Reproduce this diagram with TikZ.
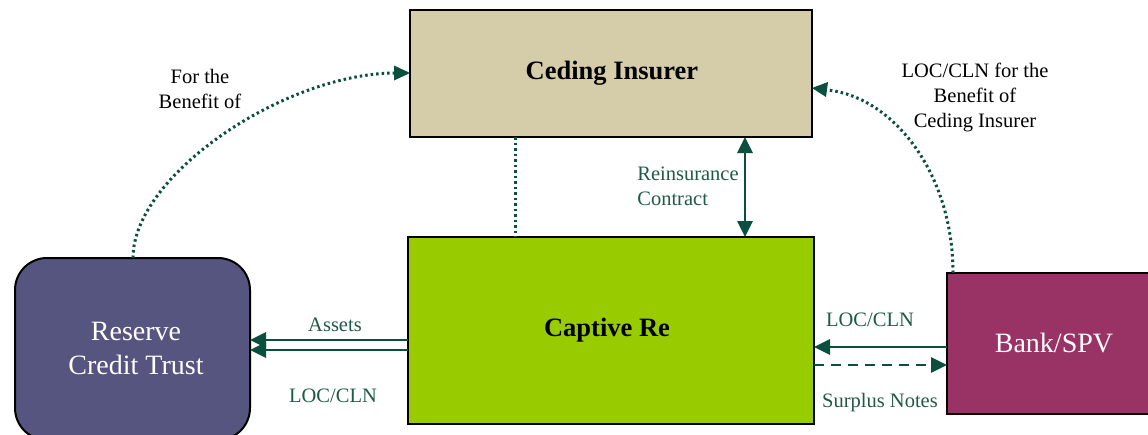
\documentclass[tikz,border=0pt]{standalone}
\usepackage{fontspec}
\setmainfont{Liberation Serif}
\usetikzlibrary{arrows.meta}
\definecolor{tan}{HTML}{D5CCAA}
\definecolor{lime}{HTML}{99CC00}
\definecolor{trust}{HTML}{55557F}
\definecolor{bank}{HTML}{993366}
\definecolor{arr}{HTML}{0B4F3E}
\definecolor{gtext}{HTML}{1E5A48}
\tikzset{
  box/.style={draw=black, line width=2pt, inner sep=0pt},
  conn/.style={draw=arr, line width=2.8pt},
  tip/.style={-{Triangle[length=16pt,width=15pt]}},
  dots/.style={draw=arr, line width=3pt, dash pattern=on 2.5pt off 3pt},
  glabel/.style={text=gtext, font=\fontsize{20.5}{25}\selectfont, align=center},
  blabel/.style={text=black, font=\fontsize{20.5}{25}\selectfont, align=center},
}
\begin{document}
\begin{tikzpicture}[x=1pt,y=-1pt]
\clip (0,0) rectangle (1148,434);
\fill[white] (0,0) rectangle (1148,434);
% boxes
\draw[box, fill=tan] (410,10) rectangle (812,137);
\node[font=\fontsize{26.5}{30}\selectfont\bfseries] (ced) at (612,73.5) {Ceding Insurer};
\draw[box, fill=lime] (408,237) rectangle (814,424);
\node[font=\fontsize{26.5}{30}\selectfont\bfseries] (cap) at (607,330) {Captive Re};
\draw[box, fill=trust, rounded corners=32pt] (15,258) rectangle (250,440);
\node[text=white, align=center, font=\fontsize{28}{34}\selectfont] (trust) at (136,348) {Reserve\\Credit Trust};
\draw[box, fill=bank] (947,273) rectangle (1160,414);
\node[text=white, font=\fontsize{28}{30}\selectfont] (bank) at (1054,343) {Bank/SPV};
% anchor coordinates on box edges
\coordinate (cedB1) at (515,137);
\coordinate (capT1) at (515,237);
\coordinate (cedB2) at (745,137);
\coordinate (capT2) at (745,237);
\coordinate (capL1) at (408,340);
\coordinate (capL2) at (408,350);
\coordinate (trR1) at (250,340);
\coordinate (trR2) at (250,350);
\coordinate (capR1) at (814,347);
\coordinate (capR2) at (814,365);
\coordinate (bkL1) at (947,347);
\coordinate (bkL2) at (947,365);
\coordinate (trT) at (133,258);
\coordinate (cedL) at (410,73);
\coordinate (bkT) at (953,273);
\coordinate (cedR) at (812,88);
% connectors
\draw[dots] (cedB1) -- (capT1);
\draw[conn, {Triangle[length=16pt,width=15pt]}-{Triangle[length=16pt,width=15pt]}] (cedB2) -- (capT2);
\draw[conn, tip] (capL1) -- (trR1);
\draw[conn, tip] (capL2) -- (trR2);
\draw[conn, tip] (bkL1) -- (capR1);
\draw[conn, tip, dash pattern=on 10pt off 7pt] (capR2) -- (bkL2);
\draw[dots] (trT) .. controls (133,175) and (285,73) .. ([xshift=-14pt]cedL);
\fill[arr] (cedL) -- ++(-16,-7.5) -- ++(0,15) -- cycle;
\draw[dots] (bkT) .. controls (953,170) and (890,95) .. (826,90);
\fill[arr] (cedR) -- ++(16,-6) -- ++(-2,15) -- cycle;
% labels
\node[blabel] (l1) at (200,89) {For the\\Benefit of};
\node[blabel] (l2) at (975,97) {LOC/CLN for the\\Benefit of\\Ceding Insurer};
\node[glabel, align=left] (l3) at (688,186) {Reinsurance\\Contract};
\node[glabel] (l4) at (335,325) {Assets};
\node[glabel] (l5) at (333,396) {LOC/CLN};
\node[glabel] (l6) at (870,320) {LOC/CLN};
\node[glabel] (l7) at (880,403) {Surplus Notes};
\end{tikzpicture}
\end{document}
